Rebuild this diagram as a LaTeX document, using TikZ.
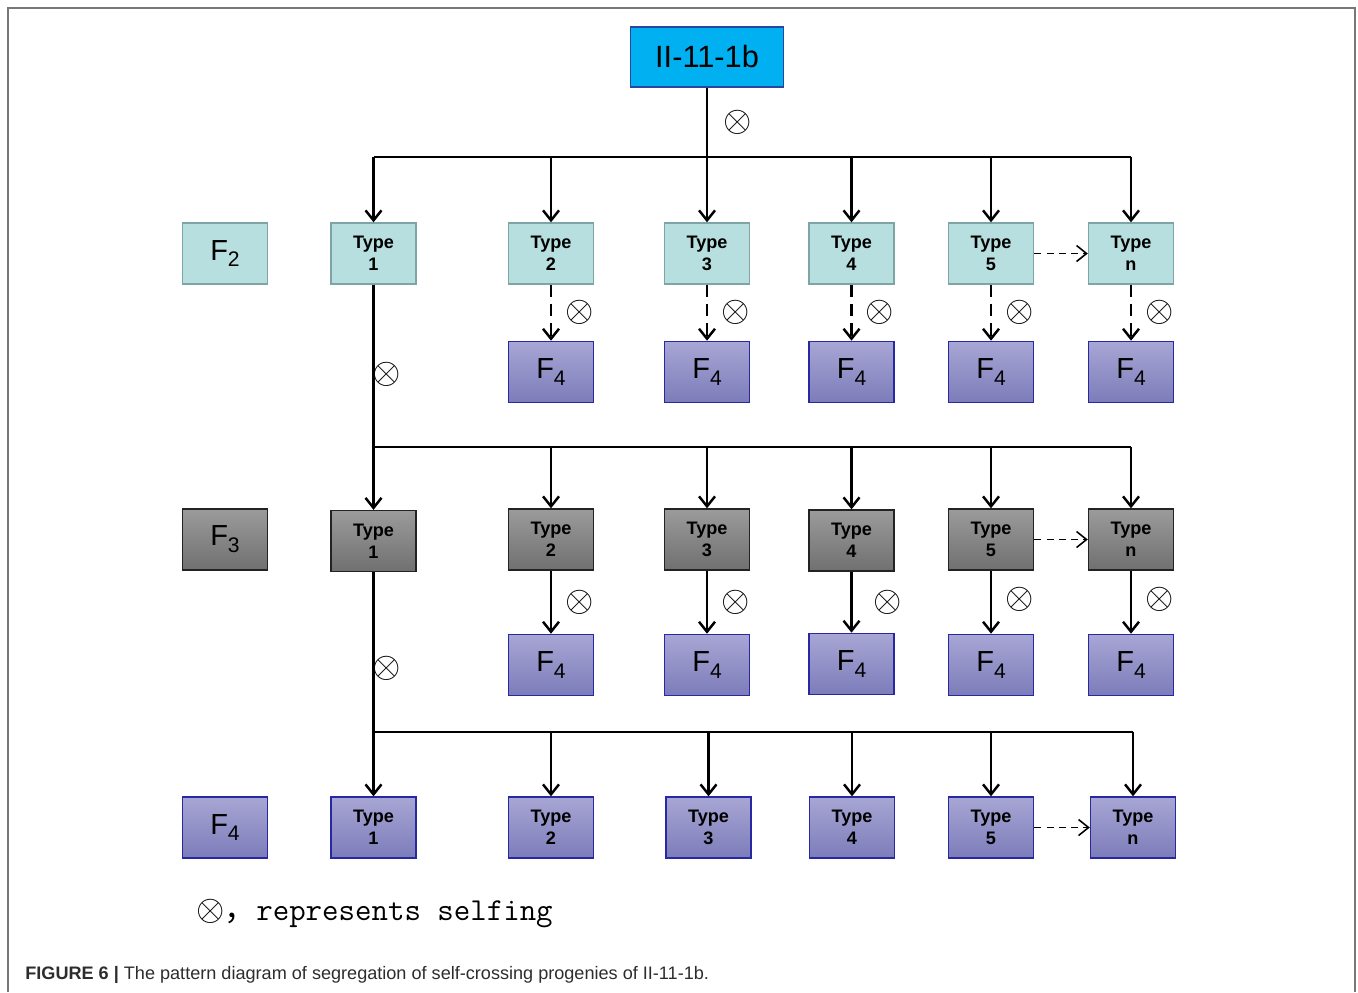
\documentclass[tikz,border=0pt]{standalone}
\usepackage{fontspec}
\setmainfont{Liberation Sans}
\newfontfamily\cjk{Noto Sans CJK SC}
\usepackage{xcolor}
\usepackage{tikz}
\usetikzlibrary{positioning,calc,arrows.meta}

\definecolor{rootfill}{RGB}{0,176,240}
\definecolor{rootedge}{RGB}{40,70,160}
\definecolor{tealfill}{RGB}{184,223,224}
\definecolor{tealedge}{RGB}{125,165,165}
\definecolor{greytop}{RGB}{155,155,155}
\definecolor{greybot}{RGB}{112,112,112}
\definecolor{greyedge}{RGB}{35,35,35}
\definecolor{purptop}{RGB}{168,166,212}
\definecolor{purpbot}{RGB}{124,124,186}
\definecolor{purpedge}{RGB}{40,40,165}
\definecolor{framegrey}{RGB}{120,120,120}
\definecolor{captext}{RGB}{45,45,45}

\newcommand{\gen}[1]{F\raisebox{-0.45ex}{\fontsize{12}{12}\selectfont #1}}

\begin{document}
\begin{tikzpicture}[x=0.02cm, y=-0.02cm, node distance=1.2cm,
        box/.style={draw, rectangle, minimum width=1.7cm, minimum height=1.22cm, align=center, inner sep=0pt, line width=0.8pt},
        f2box/.style={box, fill=tealfill, draw=tealedge},
        f3box/.style={box, top color=greytop, bottom color=greybot, draw=greyedge},
        f4box/.style={box, top color=purptop, bottom color=purpbot, draw=purpedge},
        typ/.style={font=\bfseries\fontsize{10.3}{12.4}\selectfont},
        gen/.style={font=\fontsize{16.5}{18}\selectfont},
        self/.style={font=\fontsize{21}{21}\selectfont, inner sep=0pt},
        link/.style={line width=1.4pt},
        dashlink/.style={line width=1.4pt, dash pattern=on 7pt off 4pt},
        sidelink/.style={line width=0.9pt, dash pattern=on 4pt off 3pt},
        >={Straight Barb[length=2mm,width=3.2mm]}
    ]
        \useasboundingbox (0,0) rectangle (1358,992);
        \draw[framegrey, line width=1.2pt] (8,992) -- (8,8) -- (1355,8) -- (1355,992);

        % parent
        \node [box, fill=rootfill, draw=rootedge, minimum width=3.06cm, minimum height=1.2cm,
               font=\fontsize{17.5}{20}\selectfont] (root) at (707,57) {II-11-1b};
        \node [self] (s0) at (738,122) {$\otimes$};

        \coordinate (bar1) at (0,157);
        \coordinate (bar2) at (0,447);
        \coordinate (bar3) at (0,732);

        % F2 row
        \node [f2box, gen] (g2) at (225,253.5) {\gen{2}};
        \node [f2box, typ] (t21) at (373.5,253.5) {Type\\1};
        \node [f2box, typ] (t22) at (551,253.5) {Type\\2};
        \node [f2box, typ] (t23) at (707,253.5) {Type\\3};
        \node [f2box, typ] (t24) at (851.5,253.5) {Type\\4};
        \node [f2box, typ] (t25) at (991,253.5) {Type\\5};
        \node [f2box, typ] (t2n) at (1131,253.5) {Type\\n};

        \node [f4box, gen, below=1.12cm of t22] (f22) {\gen{4}};
        \node [f4box, gen, below=1.12cm of t23] (f23) {\gen{4}};
        \node [f4box, gen, below=1.12cm of t24] (f24) {\gen{4}};
        \node [f4box, gen, below=1.12cm of t25] (f25) {\gen{4}};
        \node [f4box, gen, below=1.12cm of t2n] (f2n) {\gen{4}};

        % F3 row
        \node [f3box, gen] (g3) at (225,539.5) {\gen{3}};
        \node [f3box, typ] (t31) at (373.5,541) {Type\\1};
        \node [f3box, typ] (t32) at (551,539.5) {Type\\2};
        \node [f3box, typ] (t33) at (707,539.5) {Type\\3};
        \node [f3box, typ] (t34) at (851.5,540.5) {Type\\4};
        \node [f3box, typ] (t35) at (991,539.5) {Type\\5};
        \node [f3box, typ] (t3n) at (1131,539.5) {Type\\n};

        \node [f4box, gen, below=1.26cm of t32] (f32) {\gen{4}};
        \node [f4box, gen, below=1.26cm of t33] (f33) {\gen{4}};
        \node [f4box, gen, below=1.22cm of t34] (f34) {\gen{4}};
        \node [f4box, gen, below=1.26cm of t35] (f35) {\gen{4}};
        \node [f4box, gen, below=1.26cm of t3n] (f3n) {\gen{4}};

        % F4 row
        \node [f4box, gen] (g4) at (225,827.5) {\gen{4}};
        \node [f4box, typ] (t41) at (373.5,827.5) {Type\\1};
        \node [f4box, typ] (t42) at (551,827.5) {Type\\2};
        \node [f4box, typ] (t43) at (708.5,827.5) {Type\\3};
        \node [f4box, typ] (t44) at (852,827.5) {Type\\4};
        \node [f4box, typ] (t45) at (991,827.5) {Type\\5};
        \node [f4box, typ] (t4n) at (1133,827.5) {Type\\n};

        % F2 branches
        \draw [link, ->] (root) -- (t23);
        \draw [link] (t21.north |- bar1) -- (t2n.north |- bar1);
        \draw [link, ->] (t21.north |- bar1) -- (t21);
        \draw [link, ->] (t22.north |- bar1) -- (t22);
        \draw [link, ->] (t24.north |- bar1) -- (t24);
        \draw [link, ->] (t25.north |- bar1) -- (t25);
        \draw [link, ->] (t2n.north |- bar1) -- (t2n);
        \draw [sidelink, ->] (t25) -- (t2n);

        \draw [dashlink, ->] (t22) -- (f22) node[self, midway, right=0.26cm] (s22) {$\otimes$};
        \draw [dashlink, ->] (t23) -- (f23) node[self, midway, right=0.26cm] (s23) {$\otimes$};
        \draw [dashlink, ->] (t24) -- (f24) node[self, midway, right=0.26cm] (s24) {$\otimes$};
        \draw [dashlink, ->] (t25) -- (f25) node[self, midway, right=0.26cm] (s25) {$\otimes$};
        \draw [dashlink, ->] (t2n) -- (f2n) node[self, midway, right=0.26cm] (s2n) {$\otimes$};

        % F3 branches
        \draw [link, ->] (t21) -- (t31);
        \node [self] (s1) at (387,374) {$\otimes$};
        \draw [link] (t21.south |- bar2) -- (t3n.north |- bar2);
        \draw [link, ->] (t32.north |- bar2) -- (t32);
        \draw [link, ->] (t33.north |- bar2) -- (t33);
        \draw [link, ->] (t34.north |- bar2) -- (t34);
        \draw [link, ->] (t35.north |- bar2) -- (t35);
        \draw [link, ->] (t3n.north |- bar2) -- (t3n);
        \draw [sidelink, ->] (t35) -- (t3n);

        \draw [link, ->] (t32) -- (f32) node[self, midway, right=0.26cm] (s32) {$\otimes$};
        \draw [link, ->] (t33) -- (f33) node[self, midway, right=0.26cm] (s33) {$\otimes$};
        \draw [link, ->] (t34) -- (f34) node[self, midway, right=0.42cm] (s34) {$\otimes$};
        \draw [link, ->] (t35) -- (f35) node[self, pos=0.45, right=0.26cm] (s35) {$\otimes$};
        \draw [link, ->] (t3n) -- (f3n) node[self, pos=0.45, right=0.26cm] (s3n) {$\otimes$};

        % F4 branches
        \draw [link, ->] (t31) -- (t41);
        \node [self] (s2) at (387,668) {$\otimes$};
        \draw [link] (t31.south |- bar3) -- (t4n.north |- bar3);
        \draw [link, ->] (t42.north |- bar3) -- (t42);
        \draw [link, ->] (t43.north |- bar3) -- (t43);
        \draw [link, ->] (t44.north |- bar3) -- (t44);
        \draw [link, ->] (t45.north |- bar3) -- (t45);
        \draw [link, ->] (t4n.north |- bar3) -- (t4n);
        \draw [sidelink, ->] (t45) -- (t4n);

        % legend and caption
        \node [anchor=west, inner sep=0pt] (legend) at (196,914)
            {{\fontsize{21}{21}\selectfont$\otimes$}{\cjk\fontsize{18}{18}\selectfont ，}{\ttfamily\fontsize{18.2}{18}\selectfont represents selfing}};
        \node [anchor=west, inner sep=0pt, text=captext] (caption) at (25,975)
            {\fontsize{10.3}{12}\selectfont\textbf{FIGURE 6 |} The pattern diagram of segregation of self-crossing progenies of II-11-1b.};
    \end{tikzpicture}
\end{document}
